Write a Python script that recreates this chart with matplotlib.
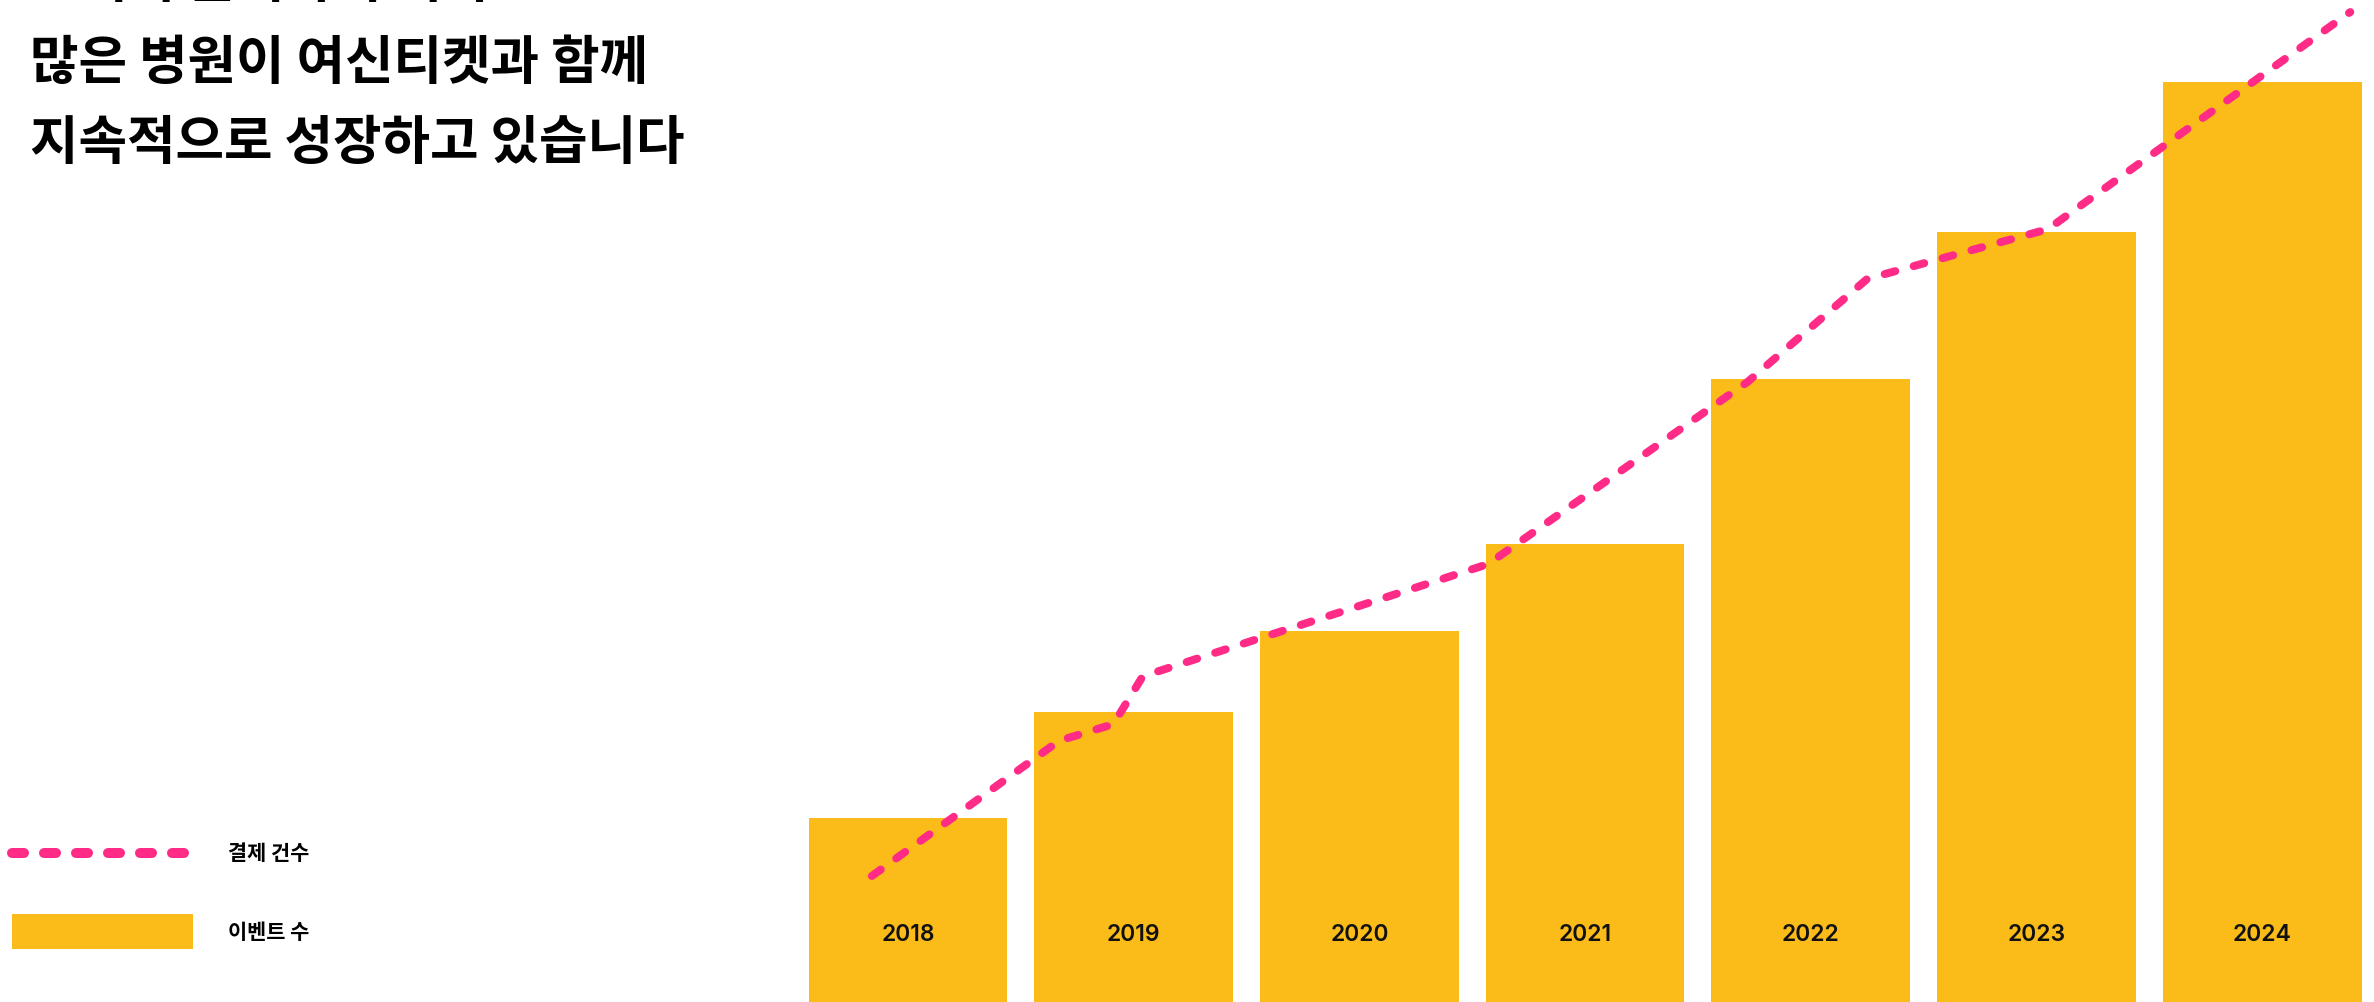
import matplotlib
matplotlib.use("Agg")
import matplotlib.pyplot as plt
from matplotlib.lines import Line2D
from matplotlib.patches import Patch
from matplotlib.legend_handler import HandlerLine2D

# ---------------- data ----------------
years = [2018, 2019, 2020, 2021, 2022, 2023, 2024]
year_labels = ["2018", "2019", "2020", "2021", "2022", "2023", "2024"]
event_counts = [20.0, 31.5, 40.3, 49.8, 67.7, 83.7, 100.0]          # 이벤트 수 (bars)
payment_x = [2017.84, 2018.67, 2018.91, 2019.04, 2020.57, 2021.72, 2022.25, 2023.05, 2024.39]
payment_counts = [13.7, 28.4, 30.2, 35.4, 47.6, 67.4, 78.6, 84.0, 107.6]  # 결제 건수 (line)
title_lines = ["고객이 늘어나며 더욱", "많은 병원이 여신티켓과 함께", "지속적으로 성장하고 있습니다"]
legend_labels = ["결제 건수", "이벤트 수"]

# ---------------- style ----------------
BAR_COLOR = "#FBBC19"
LINE_COLOR = "#FF2B86"
KR = ["Noto Sans CJK KR", "DejaVu Sans"]
NUM = ["Inter", "Noto Sans CJK KR", "DejaVu Sans"]

W, H, DPI = 2374, 1003, 100
fig = plt.figure(figsize=(W / DPI, H / DPI), dpi=DPI)
fig.patch.set_facecolor("white")

ax = fig.add_axes([0, 0, 1, 1])
ax.set_facecolor("none")
ax.set_xlim(2018 - 908 / 225.7, 2018 + (W - 908) / 225.7)
ax.set_ylim(0, H / 9.2)
ax.axis("off")

ax.bar(years, event_counts, width=0.88, color=BAR_COLOR, zorder=1)

line, = ax.plot(payment_x, payment_counts, color=LINE_COLOR, lw=5.76,
                linestyle=(0, (1.375, 2.375)), dash_capstyle="round",
                dash_joinstyle="round", zorder=3)

label_y = 7.4
for x, lab in zip(years, year_labels):
    ax.text(x, label_y, lab, ha="center", va="center", fontsize=16.5,
            family=NUM, fontweight="semibold", color="#111111", zorder=4)

# title (first line runs off the top edge as in the reference)
title_y_px = [-3, 79, 159]
for t, ypx in zip(title_lines, title_y_px):
    fig.text(30 / W, 1 - ypx / H, t, ha="left", va="baseline", fontsize=38,
             family=KR, fontweight="heavy", color="black")


class ShiftedLineHandler(HandlerLine2D):
    def __init__(self, shift, **kw):
        super().__init__(**kw)
        self.shift = shift

    def create_artists(self, legend, orig_handle, xdescent, ydescent,
                       width, height, fontsize, trans):
        arts = super().create_artists(legend, orig_handle, xdescent, ydescent,
                                      width, height, fontsize, trans)
        for a in arts:
            a.set_ydata([y + self.shift for y in a.get_ydata()])
        return arts


# legend
fs = 15
fs_px = fs * DPI / 72
box_h = 35 / fs_px
hh = (box_h - 0.245) / 0.65
h_line = Line2D([], [], color=LINE_COLOR, lw=7.2, linestyle=(0, (1.2, 2.0)),
                dash_capstyle="round")
h_bar = Patch(facecolor=BAR_COLOR, edgecolor="none")
leg = fig.legend([h_line, h_bar], legend_labels, loc="upper left",
                 bbox_to_anchor=(12 / W, 1 - 836 / H), frameon=False,
                 borderpad=0, borderaxespad=0, handlelength=181 / fs_px,
                 handleheight=hh, handletextpad=35 / fs_px,
                 labelspacing=(79 - 35) / fs_px,
                 handler_map={h_line: ShiftedLineHandler(-4)},
                 prop={"family": KR, "size": fs, "weight": "semibold"})

fig.savefig("out.png", dpi=DPI)
